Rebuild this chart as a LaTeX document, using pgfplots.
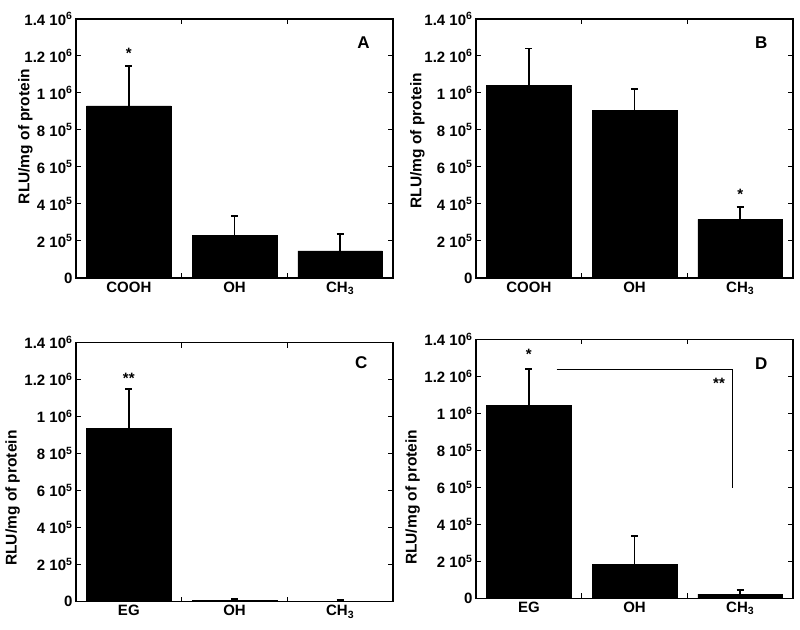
\documentclass[border=0pt]{standalone}
\usepackage{fontspec}
\setmainfont{Liberation Sans}
\usepackage{pgfplots}
\pgfplotsset{compat=1.18}
\pgfplotsset{panel/.style={
  scale only axis, width=317pt, height=259pt,
  xmin=-0.5, xmax=2.5, ymin=0, ymax=1400000,
  axis line style={line width=1.2pt},
  tick align=inside, tick pos=both,
  ytick={0,200000,400000,600000,800000,1000000,1200000,1400000},
  yticklabels={0,{2 10\textsuperscript{5}},{4 10\textsuperscript{5}},{6 10\textsuperscript{5}},{8 10\textsuperscript{5}},{1 10\textsuperscript{6}},{1.2 10\textsuperscript{6}},{1.4 10\textsuperscript{6}}},
  xtick={0,1,2}, minor xtick={0.5,1.5},
  major x tick style={draw=none},
  major tick length=5pt, minor tick length=5pt,
  every tick/.append style={line width=1pt, black},
  tick label style={font=\fontsize{15}{18}\selectfont\bfseries},
  label style={font=\fontsize{15.5}{18}\selectfont\bfseries},
  ylabel={RLU/mg of protein},
  scaled y ticks=false,
},
bars/.style={ybar, bar width=0.8, fill=black, draw=black,
  error bars/.cd, y dir=plus, y explicit, error mark=-,
  error bar style={line width=1.6pt, black},
  error mark options={rotate=90, black, mark size=3.5pt, line width=1.8pt}}
}
\tikzset{star/.style={font=\fontsize{15}{18}\selectfont\bfseries, yshift=-3pt},
letter/.style={font=\fontsize{17}{20}\selectfont\bfseries}}
\begin{document}
\begin{tikzpicture}
% Panel A
\begin{axis}[panel, at={(76pt,351pt)}, anchor=south west,
  xticklabels={COOH,OH,CH\textsubscript{3}},
  ylabel style={at={(axis description cs:-0.16,0.546)}, anchor=center}]
\addplot[bars] coordinates {(0,931000) +- (0,215000) (1,232000) +- (0,103000) (2,146000) +- (0,90000)};
\node[star] at (axis cs:0,1230000) {*};
\node[letter] at (axis cs:2.22,1270000) {A};
\end{axis}
% Panel B
\begin{axis}[panel, at={(476pt,351pt)}, anchor=south west,
  xticklabels={COOH,OH,CH\textsubscript{3}},
  ylabel style={at={(axis description cs:-0.185,0.53)}, anchor=center}]
\addplot[bars] coordinates {(0,1043000) +- (0,198000) (1,908000) +- (0,115000) (2,317000) +- (0,68000)};
\node[star] at (axis cs:2,466000) {*};
\node[letter] at (axis cs:2.2,1270000) {B};
\end{axis}
% Panel C
\begin{axis}[panel, at={(76pt,27.3pt)}, anchor=south west,
  xticklabels={EG,OH,CH\textsubscript{3}},
  ylabel style={at={(axis description cs:-0.2,0.40)}, anchor=center}]
\addplot[bars] coordinates {(0,937000) +- (0,213000) (1,6000) +- (0,10000) (2,2000) +- (0,8000)};
\node[star] at (axis cs:0,1225000) {**};
\node[letter] at (axis cs:2.2,1290000) {C};
\end{axis}
% Panel D
\begin{axis}[panel, at={(476pt,30.7pt)}, anchor=south west,
  xticklabels={EG,OH,CH\textsubscript{3}},
  ylabel style={at={(axis description cs:-0.2,0.39)}, anchor=center}]
\addplot[bars] coordinates {(0,1044000) +- (0,196000) (1,185000) +- (0,151000) (2,23000) +- (0,22000)};
\addplot[black, no markers, line width=0.6pt] coordinates {(0.263,1240000) (1.93,1240000) (1.93,594000)};
\node[star] at (axis cs:0,1337000) {*};
\node[star] at (axis cs:1.80,1180000) {**};
\node[letter] at (axis cs:2.2,1270000) {D};
\end{axis}
\pgfresetboundingbox
\useasboundingbox (0,0) rectangle (800pt,629pt);
\end{tikzpicture}
\end{document}
